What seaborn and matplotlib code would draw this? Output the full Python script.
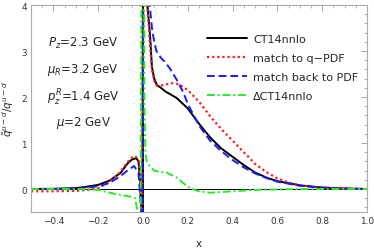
import numpy as np
import pandas as pd
import matplotlib
matplotlib.use("Agg")
import matplotlib.pyplot as plt
from matplotlib.ticker import MultipleLocator
import seaborn as sns

# ---- data ----
ct_x = [-0.5, -0.4, -0.3, -0.25, -0.2, -0.15, -0.1, -0.07, -0.05, -0.03, -0.02, -0.015, -0.01, -0.006, -0.004,
        0.002, 0.02, 0.025, 0.031, 0.04, 0.05, 0.062, 0.08, 0.1, 0.15, 0.2, 0.25, 0.3, 0.35, 0.4, 0.45, 0.5,
        0.55, 0.6, 0.7, 0.8, 0.9, 1.0]
ct_y = [0.0, 0.005, 0.02, 0.05, 0.09, 0.18, 0.35, 0.55, 0.64, 0.67, 0.6, 0.3, -0.2, -0.5, -3.0,
        8.0, 4.0, 3.7, 3.37, 2.65, 2.4, 2.26, 2.2, 2.12, 1.98, 1.75, 1.42, 1.12, 0.88, 0.7, 0.52, 0.36,
        0.25, 0.17, 0.08, 0.03, 0.01, 0.0]

q_x = [-0.5, -0.4, -0.3, -0.25, -0.2, -0.15, -0.1, -0.07, -0.05, -0.035, -0.02, -0.013, -0.008, -0.005,
       0.003, 0.018, 0.025, 0.03, 0.04, 0.05, 0.06, 0.08, 0.1, 0.13, 0.16, 0.2, 0.25, 0.3, 0.35, 0.4, 0.45,
       0.5, 0.55, 0.6, 0.65, 0.7, 0.8, 0.9, 1.0]
q_y = [-0.05, -0.05, -0.04, -0.02, 0.02, 0.15, 0.38, 0.58, 0.68, 0.72, 0.62, 0.2, -0.5, -3.0,
       8.0, 4.0, 3.6, 3.2, 2.6, 2.35, 2.25, 2.25, 2.27, 2.3, 2.28, 2.15, 1.9, 1.58, 1.3, 1.05, 0.8,
       0.55, 0.37, 0.23, 0.14, 0.08, 0.03, 0.01, 0.0]

b_x = [-0.5, -0.4, -0.3, -0.25, -0.2, -0.15, -0.1, -0.07, -0.04, -0.02, -0.012, -0.008, -0.005,
       0.005, 0.03, 0.04, 0.05, 0.06, 0.08, 0.1, 0.12, 0.15, 0.18, 0.2, 0.25, 0.3, 0.35, 0.4, 0.45,
       0.5, 0.55, 0.6, 0.7, 0.8, 0.9, 1.0]
b_y = [0.0, 0.0, 0.01, 0.03, 0.06, 0.13, 0.28, 0.4, 0.5, 0.35, -0.2, -0.5, -3.0,
       8.0, 4.0, 3.5, 3.2, 3.0, 2.85, 2.75, 2.62, 2.38, 2.1, 1.85, 1.38, 1.05, 0.82, 0.63, 0.47,
       0.34, 0.24, 0.16, 0.07, 0.03, 0.01, 0.0]

d_x = [-0.5, -0.4, -0.3, -0.25, -0.2, -0.15, -0.1, -0.05, -0.035, -0.027, -0.02, -0.012, -0.006,
       -0.005, 0.004, 0.006, 0.01, 0.015, 0.02, 0.03, 0.05, 0.08, 0.1, 0.15, 0.2, 0.22, 0.25, 0.3,
       0.4, 0.5, 0.6, 0.7, 0.8, 1.0]
d_y = [0.0, 0.0, 0.0, -0.005, -0.02, -0.08, -0.13, -0.17, -0.2, -0.43, -1.5, -2.5, 6.0,
       8.0, 8.0, 2.0, 0.9, 0.62, 0.58, 0.5, 0.4, 0.37, 0.37, 0.25, 0.05, 0.0, -0.05, -0.08,
       -0.05, -0.02, -0.01, 0.0, 0.0, 0.0]

labels = ["CT14nnlo", "match to q\u2212PDF", "match back to PDF", "\u0394CT14nnlo"]
notes = [r"$P_z$=2.3 GeV", r"$\mu_R$=3.2 GeV", r"$p_z^R$=1.4 GeV", r"$\mu$=2 GeV"]

sns.set_style("white")
plt.rcParams['font.family'] = ['DejaVu Sans']

fig = plt.figure(figsize=(3.74, 2.51), dpi=100)
ax = fig.add_axes([31/374, 1-213/251, 336/374, 207/251])

ax.axhline(0, color="black", lw=0.7, zorder=1)
ax.axvline(0, color="black", lw=0.7, zorder=1)

series = [
    (ct_x, ct_y, "black", "-", 1.4),
    (q_x, q_y, "#ff1a1a", (0, (1, 1.3)), 1.6),
    (b_x, b_y, "#1a1aff", (0, (4, 2)), 1.4),
    (d_x, d_y, "#22ee22", (0, (4, 1.5, 1, 1.5)), 1.4),
]
for (xs, ys, c, ls, lw), lab in zip(series, labels):
    df = pd.DataFrame({"x": xs, "y": ys})
    sns.lineplot(data=df, x="x", y="y", ax=ax, color=c, lw=lw, linestyle=ls,
                 estimator=None, sort=False, label=lab)

ax.set_xlim(-0.5, 1.0)
ax.set_ylim(-0.5, 4.0)
ax.xaxis.set_major_locator(MultipleLocator(0.2))
ax.xaxis.set_minor_locator(MultipleLocator(0.05))
ax.yaxis.set_major_locator(MultipleLocator(1))
ax.yaxis.set_minor_locator(MultipleLocator(0.2))
ax.tick_params(which="both", direction="in", top=True, right=True, color="#999999",
               labelsize=6.4, labelcolor="#333333", pad=3)
ax.tick_params(which="major", length=4, width=0.6)
ax.tick_params(which="minor", length=2, width=0.5)
for s in ax.spines.values():
    s.set_color("#aaaaaa")
    s.set_linewidth(0.8)

ax.set_xlabel("x", fontsize=7.5, labelpad=9)
ax.set_ylabel(r"$\tilde{q}^{u-d}/q^{u-d}$", fontsize=7.5, labelpad=4)

ny = [3.18, 2.6, 2.0, 1.46]
for t, yy in zip(notes, ny):
    ax.text(-0.267, yy, t, ha="center", va="center", fontsize=8.5)

leg = ax.legend(loc="upper left", bbox_to_anchor=(0.524, 0.862), frameon=False, fontsize=8,
                handlelength=3.6, handletextpad=0.55, labelspacing=0.82, borderpad=0, borderaxespad=0)

fig.savefig("out.png", dpi=100)
